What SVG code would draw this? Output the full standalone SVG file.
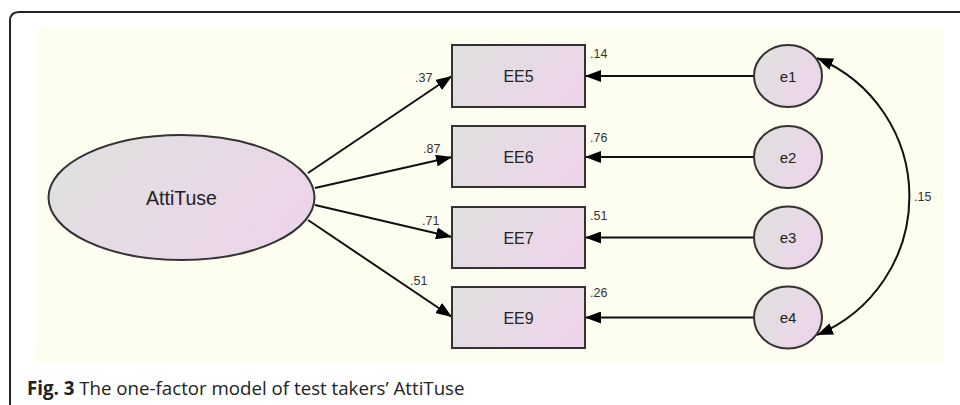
<svg xmlns="http://www.w3.org/2000/svg" width="960" height="405" viewBox="0 0 960 405">
<defs>
<linearGradient id="g" x1="0" y1="0" x2="1" y2="0.4">
<stop offset="0" stop-color="#dfe1de"/>
<stop offset="1" stop-color="#ecd5ea"/>
</linearGradient>
<marker id="ah" markerUnits="userSpaceOnUse" markerWidth="18" markerHeight="12" refX="16" refY="6" orient="auto-start-reverse">
<path d="M0,0 L16,6 L0,12 Z" fill="#000"/>
</marker>
<style>
.n{fill:url(#g);stroke:#333;stroke-width:2}
.t{font-family:"Liberation Sans",Arial,sans-serif;font-size:16px;fill:#222;text-anchor:middle}
.e{font-size:15px}
.l{font-family:"Liberation Sans",Arial,sans-serif;font-size:12.5px;fill:#333}
.c{stroke:#111;stroke-width:2;fill:none;marker-end:url(#ah)}
</style>
</defs>
<rect width="960" height="405" fill="#fff"/>
<path d="M960,12 H19 Q10,12 10,21 V405" fill="none" stroke="#222" stroke-width="2"/>
<rect x="36" y="28" width="907" height="335" fill="#fdfdf0"/>
<g id="connectors">
<line class="c" x1="308" y1="173" x2="452" y2="76"/>
<line class="c" x1="315" y1="188" x2="452" y2="157"/>
<line class="c" x1="315" y1="205" x2="452" y2="237"/>
<line class="c" x1="308" y1="220" x2="452" y2="317"/>
<line class="c" x1="754" y1="76" x2="585" y2="76"/>
<line class="c" x1="754" y1="157" x2="585" y2="157"/>
<line class="c" x1="754" y1="237.5" x2="585" y2="237.5"/>
<line class="c" x1="754" y1="317.5" x2="585" y2="317.5"/>
<path class="c" d="M817,58 A150,150 0 0 1 817,335" style="marker-start:url(#ah)"/>
<text class="l" x="415" y="82">.37</text>
<text class="l" x="423" y="153">.87</text>
<text class="l" x="422" y="225">.71</text>
<text class="l" x="410" y="285">.51</text>
<text class="l" x="914" y="201">.15</text>
</g>
<g id="AttiTuse">
<ellipse class="n" cx="181.5" cy="197.5" rx="133" ry="62.5"/>
<text class="t" x="181.5" y="205" style="font-size:19.5px">AttiTuse</text>
</g>
<g id="EE5">
<rect class="n" x="452" y="45" width="133" height="62"/>
<text class="t" x="518.5" y="82">EE5</text>
<text class="l" x="590" y="58">.14</text>
</g>
<g id="EE6">
<rect class="n" x="452" y="126" width="133" height="61"/>
<text class="t" x="518.5" y="162.5">EE6</text>
<text class="l" x="590" y="142">.76</text>
</g>
<g id="EE7">
<rect class="n" x="452" y="207" width="133" height="61"/>
<text class="t" x="518.5" y="243.5">EE7</text>
<text class="l" x="590" y="220">.51</text>
</g>
<g id="EE9">
<rect class="n" x="452" y="287" width="133" height="61"/>
<text class="t" x="518.5" y="323.5">EE9</text>
<text class="l" x="590" y="297">.26</text>
</g>
<g id="e1">
<ellipse class="n" cx="788" cy="76" rx="34" ry="31"/>
<text class="t e" x="788" y="81.5">e1</text>
</g>
<g id="e2">
<ellipse class="n" cx="788" cy="157" rx="34" ry="31"/>
<text class="t e" x="788" y="162.5">e2</text>
</g>
<g id="e3">
<ellipse class="n" cx="788" cy="237.5" rx="34" ry="31"/>
<text class="t e" x="788" y="243">e3</text>
</g>
<g id="e4">
<ellipse class="n" cx="788" cy="317.5" rx="34" ry="31"/>
<text class="t e" x="788" y="323">e4</text>
</g>
<text x="27" y="395" style="font-family:'Open Sans','Noto Sans',sans-serif;font-size:18.7px;fill:#222"><tspan font-weight="bold">Fig. 3</tspan> The one-factor model of test takers’ AttiTuse</text>
</svg>
